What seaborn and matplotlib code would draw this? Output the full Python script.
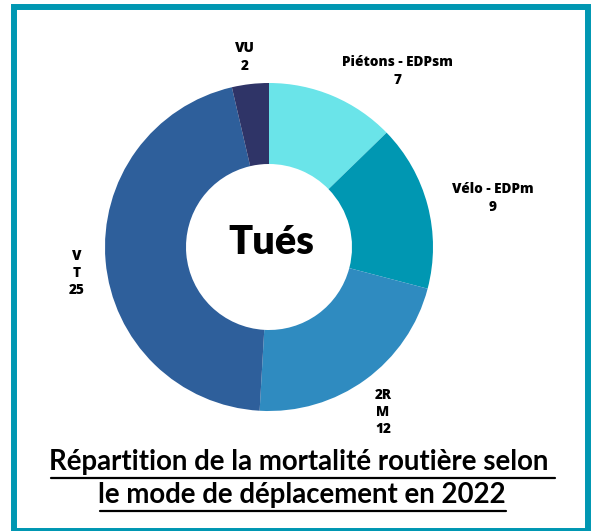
import matplotlib
matplotlib.use("Agg")
import matplotlib.pyplot as plt
import seaborn as sns
from matplotlib.patches import Rectangle
from matplotlib.lines import Line2D

sns.set_theme(style="white")
plt.rcParams["font.family"] = ["Lato", "DejaVu Sans"]

# data
modes = ["Piétons - EDPsm", "Vélo - EDPm", "2RM", "VT", "VU"]
tues = [7, 9, 12, 25, 2]
colors = ["#6ae4e9", "#0097b2", "#2f8bc0", "#2e5f9b", "#2f3467"]
# how each label is wrapped in the original
shown = ["Piétons - EDPsm", "Vélo - EDPm", "2R\nM", "V\nT", "VU"]
label_pos = [(397, 71), (493, 198), (383, 412), (77, 273), (245, 57)]

W, H = 597, 531
fig = plt.figure(figsize=(W / 100, H / 100), dpi=100)
ax = fig.add_axes([0, 0, 1, 1])

cx, cy, r_out, r_in = 269, 247, 164, 83
# y axis is inverted, so counterclock=True renders clockwise on screen
ax.pie(tues, colors=colors, startangle=-90, counterclock=True,
       center=(cx, cy), radius=r_out, frame=True,
       wedgeprops=dict(width=r_out - r_in, edgecolor="none"))
ax.set_xlim(0, W)
ax.set_ylim(H, 0)
ax.set_axis_off()

for name, val, (x, y) in zip(shown, tues, label_pos):
    ax.text(x, y, f"{name}\n{val}", ha="center", va="center",
            fontsize=9.8, fontweight="heavy", color="black", linespacing=1.3,
            family=["Open Sans", "DejaVu Sans"])

ax.text(cx + 2, cy - 4, "Tués", ha="center", va="center",
        fontsize=28.5, fontweight="heavy", color="black")

title_lines = ["Répartition de la mortalité routière selon ", "le mode de déplacement en 2022"]
title_base = [470, 503]
for line, y in zip(title_lines, title_base):
    t = ax.text(302, y, line, ha="center", va="baseline",
                fontsize=19.9, fontweight="bold", color="black")
    fig.canvas.draw()
    bb = t.get_window_extent(fig.canvas.get_renderer())
    x0, x1 = ax.transData.inverted().transform([(bb.x0, 0), (bb.x1, 0)])[:, 0]
    ax.add_line(Line2D([x0 + 2, x1], [y + 8, y + 8], color="black", linewidth=1.6))

# frame
ax.add_patch(Rectangle((14, 7), 574, 524, fill=False, edgecolor="#0097b2",
                       linewidth=4.3, clip_on=False))

fig.savefig("out.png", dpi=100, facecolor="white")
